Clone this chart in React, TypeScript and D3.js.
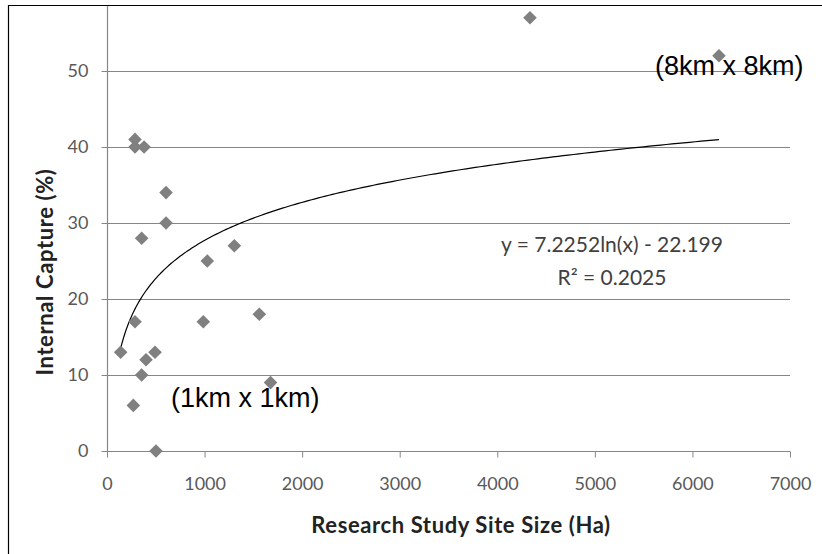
import React, { useEffect, useRef } from "react";
import * as d3 from "d3";

// site size (Ha) and internal capture (%)
const siteSize = [140, 270, 287, 287, 287, 355, 355, 380, 400, 492, 502, 605, 605, 987, 1028, 1305, 1561, 1676, 4335, 6272];
const capture = [13, 6, 17, 41, 40, 28, 10, 40, 12, 13, 0, 34, 30, 17, 25, 27, 18, 9, 57, 52];

const xTicks = [0, 1000, 2000, 3000, 4000, 5000, 6000, 7000];
const yTicks = [0, 10, 20, 30, 40, 50];

// log trendline from the chart label
const trendA = 7.2252;
const trendB = -22.199;
const eqLabel = "y = 7.2252ln(x) - 22.199";
const r2Label = "R² = 0.2025";

const App = () => {
  const ref = useRef<SVGSVGElement>(null);

  useEffect(() => {
    const width = 822;
    const height = 554;
    const svg = d3.select(ref.current).attr("width", width).attr("height", height);
    svg.selectAll("*").remove();

    const x = d3.scaleLinear().domain([0, 7000]).range([107, 790]);
    const y = d3.scaleLinear().domain([0, 60]).range([451, -5]);
    const gridColor = "#868686";
    const tickFont = "Lato, 'Open Sans', sans-serif";

    svg.append("rect").attr("width", width).attr("height", height).attr("fill", "#fff");

    // horizontal gridlines
    svg.append("g")
      .selectAll("line")
      .data(yTicks.filter(d => d > 0))
      .enter()
      .append("line")
      .attr("x1", x(0))
      .attr("x2", x(7000))
      .attr("y1", d => Math.round(y(d)) + 0.5)
      .attr("y2", d => Math.round(y(d)) + 0.5)
      .attr("stroke", gridColor)
      .attr("stroke-width", 1.2);

    // x axis
    const xAxis = svg.append("g")
      .attr("transform", `translate(0,${Math.round(y(0)) + 0.5})`)
      .call(d3.axisBottom(x).tickValues(xTicks).tickSize(6).tickPadding(20).tickFormat(d3.format("d")));
    xAxis.select(".domain").attr("stroke", gridColor).attr("stroke-width", 1.2).attr("d", `M${x(0)},0H${x(7000)}`);
    xAxis.selectAll(".tick line").attr("stroke", gridColor);
    xAxis.selectAll(".tick text")
      .attr("fill", "#595959")
      .style("font-family", tickFont)
      .style("font-size", "18px");

    // y axis
    const yAxis = svg.append("g")
      .attr("transform", `translate(${Math.round(x(0)) + 0.5},0)`)
      .call(d3.axisLeft(y).tickValues(yTicks).tickSize(6).tickPadding(13));
    yAxis.select(".domain").attr("stroke", gridColor).attr("stroke-width", 1.2).attr("d", `M0,${y(0)}V${y(60)}`);
    yAxis.selectAll(".tick line").attr("stroke", gridColor);
    yAxis.selectAll(".tick text")
      .attr("fill", "#595959")
      .style("font-family", tickFont)
      .style("font-size", "18px");

    // trendline
    const [xMin, xMax] = d3.extent(siteSize) as [number, number];
    const trend = d3.range(0, 201).map(i => {
      const v = xMin + (xMax - xMin) * (i / 200) ** 2;
      return [v, trendA * Math.log(v) + trendB] as [number, number];
    });
    svg.append("path")
      .datum(trend)
      .attr("fill", "none")
      .attr("stroke", "#000")
      .attr("stroke-width", 1.2)
      .attr("d", d3.line<[number, number]>().x(d => x(d[0])).y(d => y(d[1])));

    // diamonds
    const s = 6.8;
    svg.append("g")
      .selectAll("path")
      .data(siteSize.map((v, i) => [v, capture[i]]))
      .enter()
      .append("path")
      .attr("transform", d => `translate(${x(d[0])},${y(d[1])})`)
      .attr("d", `M0,${-s}L${s},0L0,${s}L${-s},0Z`)
      .attr("fill", "#808080");

    // annotations
    svg.append("text")
      .attr("x", 655).attr("y", 75)
      .style("font-family", "'Liberation Sans', Arial, sans-serif")
      .style("font-size", "27px")
      .text("(8km x 8km)");
    svg.append("text")
      .attr("x", 171).attr("y", 407)
      .style("font-family", "'Liberation Sans', Arial, sans-serif")
      .style("font-size", "27px")
      .text("(1km x 1km)");

    const eq = svg.append("g")
      .attr("text-anchor", "middle")
      .attr("fill", "#404040")
      .style("font-family", tickFont)
      .style("font-size", "21px");
    eq.append("text").attr("x", 612).attr("y", 252).text(eqLabel);
    eq.append("text").attr("x", 612).attr("y", 285).text(r2Label);

    // axis titles
    svg.append("text")
      .attr("x", 461).attr("y", 533)
      .attr("text-anchor", "middle")
      .attr("fill", "#222")
      .style("font-family", tickFont)
      .style("font-weight", "bold")
      .style("font-size", "22px")
      .style("letter-spacing", "0.6px")
      .text("Research Study Site Size (Ha)");
    svg.append("text")
      .attr("transform", "translate(53,272) rotate(-90)")
      .attr("text-anchor", "middle")
      .attr("fill", "#222")
      .style("font-family", tickFont)
      .style("font-weight", "bold")
      .style("font-size", "22px")
      .style("letter-spacing", "0.6px")
      .text("Internal Capture (%)");

    // chart border, cropped at the top
    svg.append("rect").attr("width", width).attr("height", 5).attr("fill", "#fff");
    svg.append("path")
      .attr("d", `M8.5,${height + 2}V5.5H${width + 2}`)
      .attr("fill", "none")
      .attr("stroke", "#000")
      .attr("stroke-width", 1.2);
  }, []);

  return <svg ref={ref} style={{ position: "absolute", left: 0, top: 0 }}></svg>;
};

export default App;
